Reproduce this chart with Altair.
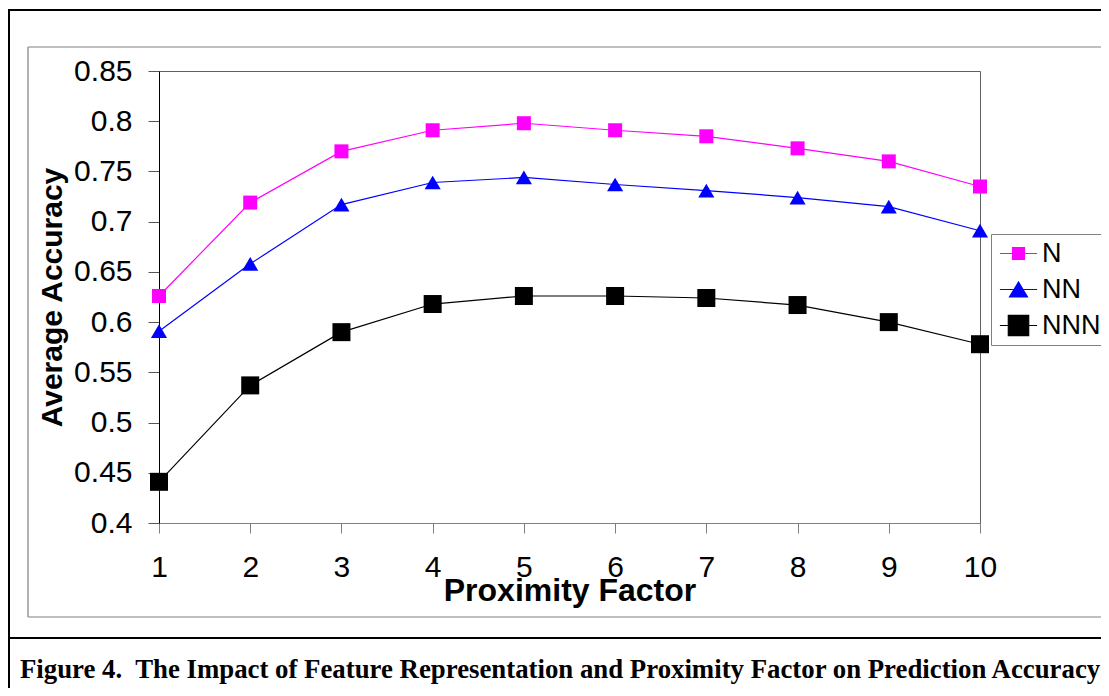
import altair as alt
import pandas as pd

factors = [1, 2, 3, 4, 5, 6, 7, 8, 9, 10]
series_names = ["N", "NN", "NNN"]
n_values = [0.626, 0.719, 0.770, 0.791, 0.798, 0.791, 0.785, 0.773, 0.760, 0.735]
nn_values = [0.591, 0.658, 0.717, 0.739, 0.744, 0.737, 0.731, 0.724, 0.715, 0.691]
nnn_values = [0.441, 0.537, 0.590, 0.618, 0.626, 0.626, 0.624, 0.617, 0.600, 0.578]
y_ticks = [0.4, 0.45, 0.5, 0.55, 0.6, 0.65, 0.7, 0.75, 0.8, 0.85]
colors = ["#FF00FF", "#0000FF", "#000000"]
caption = "Figure 4.\u00a0 The Impact of Feature Representation and Proximity Factor on Prediction Accuracy"

rows = []
for name, vals in zip(series_names, [n_values, nn_values, nnn_values]):
    for f, v in zip(factors, vals):
        rows.append({"factor": f, "accuracy": v, "series": name})
df = pd.DataFrame(rows)

W, H = 821, 452
PL, PT, PR, PB = 151, 63, 121, 165
FONT = "Liberation Sans"

x_enc = alt.X("factor:Q",
              scale=alt.Scale(domain=[1, 10], nice=False, zero=False),
              axis=alt.Axis(values=factors, format="d", grid=False,
                            domainColor="#808080", tickColor="#808080", tickSize=10,
                            labelFont=FONT, labelFontSize=30, labelColor="black",
                            labelPadding=19, labelFlush=False,
                            title="Proximity Factor", titleFont=FONT, titleFontSize=32,
                            titleFontWeight="bold", titleColor="black",
                            titleBaseline="alphabetic", titleY=77))
y_enc = alt.Y("accuracy:Q",
              scale=alt.Scale(domain=[0.4, 0.85], nice=False, zero=False),
              axis=alt.Axis(values=y_ticks, format=".2~f", grid=False,
                            domainColor="black", tickColor="#555555", tickSize=11,
                            labelFont=FONT, labelFontSize=30, labelColor="black",
                            labelPadding=16, labelFlush=False,
                            title="Average Accuracy", titleFont=FONT, titleFontSize=30,
                            titleFontWeight="bold", titleColor="black",
                            titleBaseline="alphabetic", titleX=-98))

color_scale = alt.Scale(domain=series_names, range=colors)

base = alt.Chart(df)

lines = base.mark_line(strokeWidth=1.2).encode(
    x=x_enc, y=y_enc,
    color=alt.Color("series:N", scale=color_scale, legend=None),
    detail="series:N",
)

points = base.mark_point(filled=True, opacity=1).encode(
    x="factor:Q", y="accuracy:Q",
    color=alt.Color("series:N", scale=color_scale, legend=None),
    shape=alt.Shape("series:N", scale=alt.Scale(
        domain=series_names,
        range=["square", "M0,-0.85L1,0.85L-1,0.85Z", "square"]), legend=None),
    size=alt.Size("series:N", scale=alt.Scale(domain=series_names, range=[196, 324, 289]),
                  legend=None),
)

leg = alt.Legend(title=None, orient="none", legendX=832, legendY=163,
                 strokeColor="#808080", fillColor="white", padding=6,
                 labelFont=FONT, labelFontSize=27, labelColor="black",
                 symbolSize=144, symbolOffset=8, labelOffset=10,
                 rowPadding=8, symbolStrokeWidth=1.2, symbolFillColor="black",
                 symbolStrokeColor="black")

legend_layer = alt.Chart(df).transform_filter("false").mark_point(
    filled=False, opacity=1, fillOpacity=1, strokeWidth=1.2).encode(
    x="factor:Q", y="accuracy:Q",
    color=alt.Color("series:N", scale=color_scale, legend=leg),
    fill=alt.Fill("series:N", scale=color_scale, legend=leg),
    shape=alt.Shape("series:N", scale=alt.Scale(
        domain=series_names,
        range=["M-3.1,0H3.1M-1,-1H1V1H-1Z",
               "M-3.1,0H3.1M0,-1.25L1.5,1.25H-1.5Z",
               "M-3.1,0H3.1M-1.7,-1.7H1.7V1.7H-1.7Z"]), legend=leg),
)

one = alt.Data(values=[{"k": 1}])
RIGHT = W + PR
BOTTOM = H + PB


def rule(x, x2, y, y2, color, width):
    return alt.Chart(one).mark_rule(color=color, strokeWidth=width).encode(
        x=alt.value(x), x2=alt.value(x2), y=alt.value(y), y2=alt.value(y2))


frame = [
    rule(-151, RIGHT, -61, -61, "black", 2),
    rule(-150, -150, -61, BOTTOM, "black", 2),
    rule(-151, RIGHT, 567, 567, "black", 2),
    rule(-131, RIGHT, -24, -24, "#808080", 1.2),
    rule(-131, -131, -24, 546, "#808080", 1.2),
    rule(-131, RIGHT, 546, 546, "#808080", 1.2),
]

caption_layer = alt.Chart(one).mark_text(
    text=caption, font="Liberation Serif", fontSize=26.8, fontWeight="bold",
    color="black", align="left", baseline="alphabetic").encode(
    x=alt.value(-139), y=alt.value(607))

chart = alt.layer(*frame, lines, points, legend_layer, caption_layer).resolve_scale(
    color="independent", shape="independent", size="independent", fill="independent"
).properties(
    width=W, height=H,
    autosize=alt.AutoSizeParams(type="none"),
    padding={"left": PL, "top": PT, "right": PR, "bottom": PB},
    background="white",
).configure_view(stroke="#606060", strokeWidth=1)

chart.save("out.html", embed_options={"renderer": "svg", "actions": False})
